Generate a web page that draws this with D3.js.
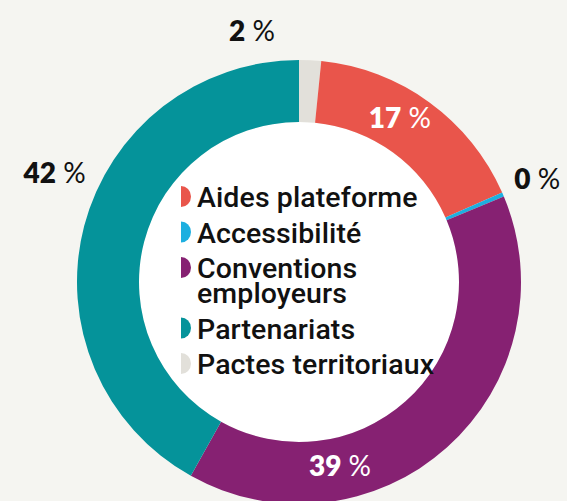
<!DOCTYPE html>
<html>
<head>
<meta charset="utf-8">
<script src="https://cdn.jsdelivr.net/npm/d3@7"></script>
<style>
  html, body { margin: 0; padding: 0; background: #F5F5F1; }
  svg { display: block; }
</style>
</head>
<body>
<svg id="chart" width="567" height="501"></svg>
<script>
// Répartition des dépenses par poste (en % du total)
const categories = ["Pactes territoriaux", "Aides plateforme", "Accessibilité", "Conventions employeurs", "Partenariats"];
const shares = [1.6, 16.8, 0.3, 39.4, 41.9];
const colors = ["#E2E0DA", "#E9554B", "#1DAFE0", "#862172", "#05939A"];

// Legend order and wrapped label lines
const legendOrder = ["Aides plateforme", "Accessibilité", "Conventions employeurs", "Partenariats", "Pactes territoriaux"];
const legendLines = [["Aides plateforme"], ["Accessibilité"], ["Conventions", "employeurs"], ["Partenariats"], ["Pactes territoriaux"]];

// Where each percentage label sits: angle (degrees clockwise from top) and radius
const labelAngle = [-10.6, 31.5, 66.4, 167.4, -65.8];
const labelRadius = [256, 193, 260, 188, 268];
const labelInside = [false, true, false, true, false];

const W = 567, H = 501;
const cx = 299, cy = 282;
const rOuter = 222, rInner = 160;

const svg = d3.select("#chart");
svg.append("rect").attr("width", W).attr("height", H).attr("fill", "#F5F5F1");

const g = svg.append("g").attr("transform", `translate(${cx},${cy})`);

const data = categories.map((c, i) => ({ name: c, value: shares[i], color: colors[i], idx: i }));

const pie = d3.pie().value(d => d.value).sort(null).startAngle(0).endAngle(2 * Math.PI);
const arc = d3.arc().innerRadius(rInner).outerRadius(rOuter);

// white hole
g.append("circle").attr("r", rInner).attr("fill", "#FFFFFF");

g.selectAll("path.slice")
  .data(pie(data))
  .join("path")
  .attr("class", "slice")
  .attr("d", arc)
  .attr("fill", d => d.data.color);

// Percentage labels
const numFont = "Lato, 'Open Sans', sans-serif";
data.forEach((d, i) => {
  const a = labelAngle[i] * Math.PI / 180;
  const x = Math.sin(a) * labelRadius[i];
  const y = -Math.cos(a) * labelRadius[i];
  const t = g.append("text")
    .attr("x", x).attr("y", y)
    .attr("text-anchor", "middle")
    .attr("dominant-baseline", "central")
    .attr("font-family", numFont)
    .attr("font-size", 28)
    .attr("fill", labelInside[i] ? "#FFFFFF" : "#111111");
  t.append("tspan").attr("font-weight", 800).text(Math.round(d.value));
  t.append("tspan").attr("font-weight", 400).text(" %");
});

// Legend inside the hole
const legFont = "Roboto, 'Open Sans', sans-serif";
const legX = 197, markX = 181, markR = 10.5;
let baseY = 207;
const entryGap = 35.5, lineGap = 25;
const lg = svg.append("g");
legendOrder.forEach((name, i) => {
  const k = categories.indexOf(name);
  const y0 = baseY;
  lg.append("path")
    .attr("d", `M${markX},${y0 - 10.5 - markR} A${markR - 0.5},${markR} 0 0 1 ${markX},${y0 - 10.5 + markR} Z`)
    .attr("fill", colors[k]);
  const t = lg.append("text")
    .attr("x", legX)
    .attr("y", y0)
    .attr("font-family", legFont)
    .attr("font-size", 28.5)
    .attr("font-weight", 500)
    .attr("letter-spacing", 0.1)
    .attr("fill", "#111111");
  legendLines[i].forEach((line, j) => {
    t.append("tspan")
      .attr("x", legX)
      .attr("dy", j === 0 ? 0 : lineGap)
      .text(line);
  });
  baseY += entryGap + (legendLines[i].length - 1) * lineGap;
});
</script>
</body>
</html>
